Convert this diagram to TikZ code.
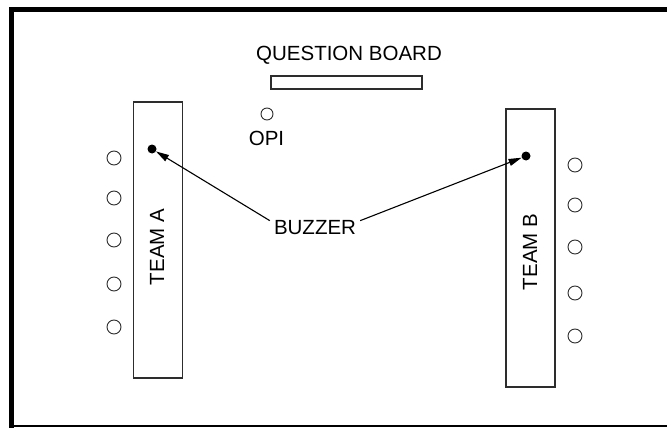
\documentclass[tikz,border=0pt]{standalone}
\usepackage{fontspec}
\setmainfont{Liberation Sans}
\usetikzlibrary{arrows.meta,positioning}
\definecolor{myline}{RGB}{45,45,45}

\begin{document}
\begin{tikzpicture}[x=1pt,y=-1pt, every node/.style={font=\fontsize{20.5}{24}\selectfont},
    tablebox/.style={draw=myline,line width=1.4pt,minimum width=49pt,inner sep=0pt},
    seat/.style={circle,draw=myline,line width=0.9pt,minimum size=14pt,inner sep=0pt},
    buzzdot/.style={circle,fill=black,minimum size=9pt,inner sep=0pt}]
  \useasboundingbox (0,0) rectangle (667,428);
  % room walls
  \draw[line width=5.5pt] (667,9.5) -- (11.5,9.5) -- (11.5,428);
  \draw[line width=2pt] (12,426.3) -- (667,426.3);
  % question board
  \node (qlabel) at (349,55) {QUESTION BOARD};
  \node[draw=myline,line width=1.2pt,minimum width=151pt,minimum height=13pt,
        inner sep=0pt] (board) at (346.5,82.5) {};
  \node[seat,minimum size=12pt] (opi) at (267,114) {};
  \node (opilabel) at (266.5,138.5) {OPI};
  % team tables
  \node[tablebox,minimum height=276pt] (tableA) at (158,240) {};
  \node[tablebox,minimum height=278pt] (tableB) at (530.5,248) {};
  \node[rotate=90] (teamA) at (157,247) {TEAM A};
  \node[rotate=90] (teamB) at (530,252) {TEAM B};
  % players
  \foreach \i/\y in {1/158,2/198,3/240,4/284,5/327}
    \node[seat] (seatA\i) at (114,\y) {};
  \foreach \i/\y in {1/165,2/205,3/247,4/293,5/336}
    \node[seat] (seatB\i) at (575,\y) {};
  % buzzers
  \node[buzzdot] (buzzA) at (152,149) {};
  \node[buzzdot] (buzzB) at (526,156) {};
  \node[inner xsep=4pt,inner ysep=0pt] (buzzer) at (315,228) {BUZZER};
  \draw[line width=1.1pt,-{Triangle[length=13pt,width=7pt]}] (buzzer.north west) -- (buzzA);
  \draw[line width=1.1pt,-{Triangle[length=13pt,width=7pt]}] (buzzer.north east) -- (buzzB);
\end{tikzpicture}
\end{document}
